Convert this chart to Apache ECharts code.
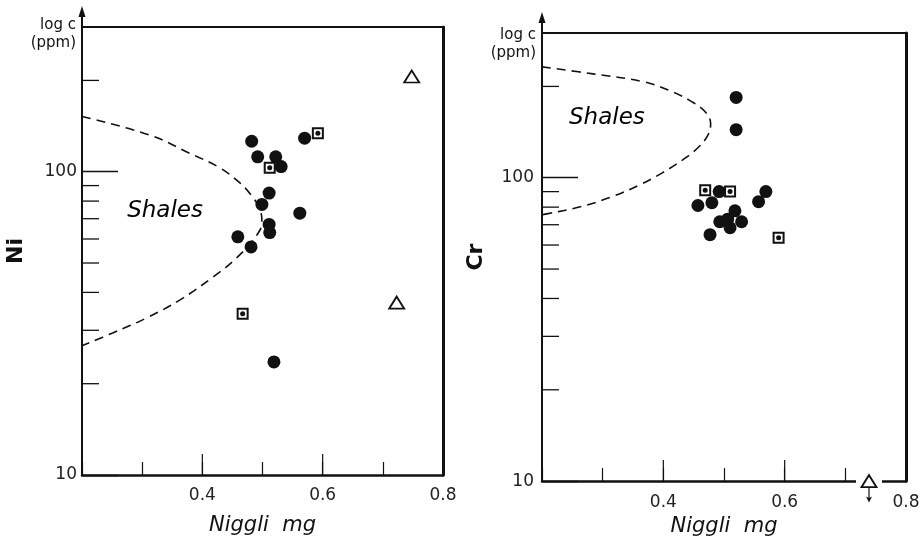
<!DOCTYPE html>
<html>
<head>
<meta charset="utf-8">
<title>Ni, Cr vs Niggli mg</title>
<script src="https://cdn.jsdelivr.net/npm/echarts@6/dist/echarts.min.js"></script>
<style>
  html, body { margin: 0; padding: 0; background: #fff; }
  #chart { width: 924px; height: 542px; }
</style>
</head>
<body>
<div id="chart"></div>
<script>
// Ni panel (left): [Niggli mg, ppm]
const niCircles = [[0.482, 126], [0.492, 112], [0.522, 112], [0.531, 104], [0.570, 129],
  [0.511, 85], [0.499, 78], [0.562, 73], [0.511, 67], [0.512, 63], [0.459, 61],
  [0.481, 56.5], [0.519, 23.6]]
const niSquares = [[0.592, 134], [0.512, 103], [0.467, 34]]
const niTriangles = [[0.723, 37], [0.748, 206]]
const niShales = [[0.2, 152], [0.313, 132], [0.379, 115], [0.429, 103], [0.462, 92],
  [0.482, 83.3], [0.496, 75], [0.499, 68], [0.491, 62], [0.457, 52], [0.418, 45],
  [0.363, 37.8], [0.308, 33], [0.251, 29.4], [0.2, 26.7]]

// Cr panel (right)
const crCircles = [[0.520, 184], [0.520, 144], [0.492, 90], [0.569, 90], [0.557, 83.4],
  [0.457, 81], [0.480, 82.7], [0.518, 77.8], [0.506, 73], [0.493, 71.6], [0.510, 68.4],
  [0.529, 71.6], [0.477, 64.9]]
const crSquares = [[0.469, 91], [0.510, 90], [0.590, 63.4]]
const crTriangles = [[0.739, 10]]
const crShales = [[0.2, 232], [0.284, 220], [0.366, 207.5], [0.411, 193.6], [0.444, 179.5],
  [0.469, 165], [0.478, 150.6], [0.473, 137.7], [0.457, 125.6], [0.432, 114.6],
  [0.399, 104], [0.361, 94.8], [0.315, 86.5], [0.263, 80.2], [0.208, 76], [0.2, 75.5]]

// ticks and labels
const yTickLabels = [10, 100]
const yMinorTicks = [20, 30, 40, 50, 60, 70, 80, 90, 200]
const xTickLabels = ['0.4', '0.6', '0.8']
const xLongTicks = [0.4, 0.6]

const xMin = 0.2
const xMax = 0.8
const yMin = 10
const yMax = 300
const ink = '#111'
const font = 'DejaVu Sans'

const arrowDown = 'path://M4 0 L6 0 L6 27 L10 24 L5 40 L0 24 L4 27 Z'

function axesFor (g, element, nameGapTop, yLabelMargin, xLabelMargin, xNameGap) {
  const xs = [
    {
      gridIndex: g,
      type: 'value',
      min: xMin,
      max: xMax,
      interval: 0.1,
      position: 'bottom',
      axisLine: { lineStyle: { color: ink, width: 2.5 } },
      axisTick: { inside: true, length: 13, lineStyle: { color: ink, width: 1.2 } },
      axisLabel: {
        margin: xLabelMargin,
        color: '#222',
        fontFamily: font,
        fontSize: 17,
        formatter: v => (xTickLabels.includes(v.toFixed(1)) ? v.toFixed(1) : '')
      },
      splitLine: { show: false },
      name: 'Niggli  mg',
      nameLocation: 'middle',
      nameGap: xNameGap,
      nameTextStyle: { color: ink, fontFamily: font, fontSize: 21, fontStyle: 'italic' }
    },
    {
      gridIndex: g,
      type: 'value',
      min: xMin,
      max: xMax,
      position: 'top',
      axisLine: { lineStyle: { color: ink, width: 2 } },
      axisTick: { show: false },
      axisLabel: { show: false },
      splitLine: { show: false }
    }
  ]
  const ys = [
    {
      gridIndex: g,
      type: 'log',
      logBase: 10,
      min: yMin,
      max: yMax,
      axisLine: { lineStyle: { color: ink, width: 2 } },
      axisTick: { inside: true, length: 36, lineStyle: { color: ink, width: 1.3 } },
      axisLabel: {
        margin: yLabelMargin,
        color: '#222',
        fontFamily: font,
        fontSize: 17,
        showMaxLabel: false,
        formatter: v => (yTickLabels.includes(Math.round(v)) ? String(Math.round(v)) : '')
      },
      splitLine: { show: false },
      name: 'log c\n(ppm)',
      nameLocation: 'end',
      nameGap: nameGapTop,
      nameTextStyle: {
        color: ink, fontFamily: font, fontSize: 15, lineHeight: 18,
        align: 'right', verticalAlign: 'middle', padding: [0, 6, 0, 0]
      }
    },
    {
      gridIndex: g,
      type: 'log',
      min: yMin,
      max: yMax,
      position: 'right',
      axisLine: { lineStyle: { color: ink, width: 3 } },
      axisTick: { show: false },
      axisLabel: { show: false },
      splitLine: { show: false }
    },
    {
      gridIndex: g,
      type: 'log',
      min: yMin,
      max: yMax,
      position: 'left',
      axisLine: { show: false },
      axisTick: { show: false },
      axisLabel: { show: false },
      splitLine: { show: false },
      name: element,
      nameLocation: 'middle',
      nameGap: 55,
      nameTextStyle: { color: ink, fontFamily: font, fontSize: 22, fontWeight: 'bold' }
    }
  ]
  return { xs, ys }
}

function seriesFor (g, circles, squares, triangles, shales, labelAt) {
  const ax = { xAxisIndex: 2 * g, yAxisIndex: 3 * g }
  return [
    {
      ...ax,
      type: 'line',
      data: shales,
      smooth: 0.4,
      showSymbol: false,
      silent: true,
      lineStyle: { color: ink, width: 1.6, type: [9, 6] },
      z: 1
    },
    {
      ...ax,
      type: 'custom',
      data: yMinorTicks.map(v => [xMin, v]),
      renderItem: (params, api) => {
        const p = api.coord([api.value(0), api.value(1)])
        return { type: 'line', shape: { x1: p[0], y1: p[1], x2: p[0] + 17, y2: p[1] }, style: { stroke: ink, lineWidth: 1.3 } }
      },
      silent: true
    },
    {
      ...ax,
      type: 'custom',
      data: xLongTicks.map(v => [v, yMin]),
      renderItem: (params, api) => {
        const p = api.coord([api.value(0), api.value(1)])
        return { type: 'line', shape: { x1: p[0], y1: p[1], x2: p[0], y2: p[1] - 21 }, style: { stroke: ink, lineWidth: 1.2 } }
      },
      silent: true
    },
    {
      ...ax,
      type: 'scatter',
      data: circles,
      symbol: 'circle',
      symbolSize: 13,
      itemStyle: { color: ink, opacity: 1 },
      z: 3
    },
    {
      ...ax,
      type: 'scatter',
      data: squares,
      symbol: 'rect',
      symbolSize: 10,
      itemStyle: { color: '#fff', borderColor: ink, borderWidth: 2, opacity: 1 },
      z: 4
    },
    {
      ...ax,
      type: 'scatter',
      data: squares,
      symbol: 'circle',
      symbolSize: 5,
      itemStyle: { color: ink, opacity: 1 },
      z: 5
    },
    {
      ...ax,
      type: 'scatter',
      data: triangles,
      symbol: 'triangle',
      symbolSize: [15, 12],
      clip: false,
      itemStyle: { color: '#fff', borderColor: ink, borderWidth: 1.8, opacity: 1 },
      z: 6
    },
    {
      ...ax,
      type: 'scatter',
      data: [labelAt],
      symbolSize: 0,
      silent: true,
      itemStyle: { opacity: 1 },
      label: {
        show: true,
        position: 'inside',
        formatter: 'Shales',
        color: '#000',
        fontFamily: font,
        fontSize: 23,
        fontStyle: 'italic'
      }
    }
  ]
}

const left = axesFor(0, 'Ni', -7, 5, 12, 40)
const right = axesFor(1, 'Cr', -11, 8, 13, 33)

// right panel: the triangle sits on the axis with a gap and a downward arrow
const crExtra = [
  {
    xAxisIndex: 2,
    yAxisIndex: 3,
    type: 'scatter',
    data: crTriangles,
    symbol: 'rect',
    symbolSize: [26, 8],
    clip: false,
    silent: true,
    itemStyle: { color: '#fff', opacity: 1 },
    z: 5
  },
  {
    xAxisIndex: 2,
    yAxisIndex: 3,
    type: 'scatter',
    data: crTriangles,
    symbol: arrowDown,
    symbolSize: [6, 15],
    symbolOffset: [0, 14],
    clip: false,
    silent: true,
    itemStyle: { color: ink, opacity: 1 },
    z: 5
  }
]

const option = {
  backgroundColor: '#fff',
  animation: false,
  grid: [
    { left: 82, top: 27, width: 361, height: 448 },
    { left: 542, top: 33, width: 364, height: 449 }
  ],
  xAxis: [...left.xs, ...right.xs],
  yAxis: [...left.ys, ...right.ys],
  series: [
    ...seriesFor(0, niCircles, niSquares, niTriangles, niShales, [0.338, 74]),
    ...crExtra,
    ...seriesFor(1, crCircles, crSquares, crTriangles, crShales, [0.307, 157])
  ]
}

const chart = echarts.init(document.getElementById('chart'))
chart.setOption(option)

// arrow heads on the log c axes, placed from the axis top
function axisArrow (g) {
  const p = chart.convertToPixel({ xAxisIndex: 2 * g, yAxisIndex: 3 * g }, [xMin, yMax])
  return [
    { type: 'line', shape: { x1: p[0], y1: p[1], x2: p[0], y2: p[1] - 14 }, style: { stroke: ink, lineWidth: 2 } },
    { type: 'polygon', shape: { points: [[p[0], p[1] - 21], [p[0] - 3.5, p[1] - 10], [p[0] + 3.5, p[1] - 10]] }, style: { fill: ink } }
  ]
}
chart.setOption({ graphic: [...axisArrow(0), ...axisArrow(1)] })
window.addEventListener('resize', () => chart.resize())
</script>
</body>
</html>
